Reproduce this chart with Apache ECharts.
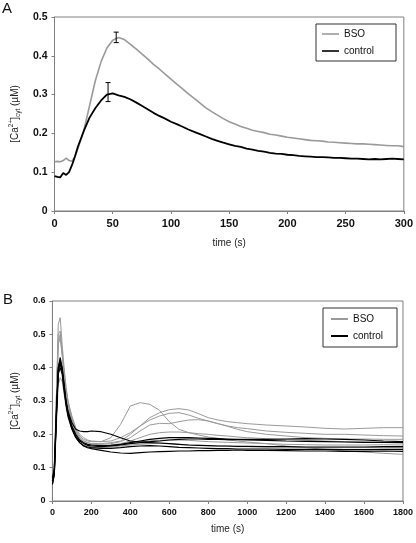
<!DOCTYPE html>
<html>
<head>
<meta charset="utf-8">
<script src="https://cdn.jsdelivr.net/npm/echarts@6/dist/echarts.min.js"></script>
<style>html,body{margin:0;padding:0;background:#fff}#c{width:416px;height:543px}</style>
</head>
<body>
<div id="c"></div>
<script>
// ---------- Panel A ----------
var tA = [0,2.5,5,7.5,10,12.5,15,17.5,20,25,30,35,40,45,50,55,60,65,70,75,80,85,90,95,100,105,110,115,120,125,130,135,140,145,150,155,160,165,170,175,180,185,190,195,200,205,210,215,220,225,230,235,240,245,250,255,260,265,270,275,280,285,290,295,300];
var bsoA = [0.127,0.128,0.127,0.130,0.136,0.130,0.128,0.140,0.160,0.205,0.270,0.335,0.385,0.420,0.440,0.447,0.442,0.430,0.418,0.405,0.392,0.378,0.366,0.353,0.340,0.327,0.315,0.302,0.290,0.278,0.266,0.256,0.247,0.238,0.230,0.224,0.218,0.213,0.208,0.205,0.202,0.198,0.196,0.193,0.190,0.188,0.186,0.184,0.182,0.181,0.180,0.178,0.177,0.176,0.175,0.174,0.173,0.173,0.172,0.171,0.170,0.169,0.168,0.168,0.166];
var ctrlA = [0.090,0.088,0.087,0.098,0.093,0.100,0.118,0.140,0.165,0.205,0.240,0.265,0.285,0.300,0.303,0.298,0.294,0.288,0.280,0.271,0.262,0.253,0.245,0.238,0.230,0.224,0.217,0.210,0.204,0.198,0.192,0.186,0.181,0.176,0.172,0.168,0.165,0.161,0.158,0.155,0.153,0.150,0.148,0.147,0.145,0.144,0.142,0.141,0.140,0.139,0.139,0.138,0.137,0.137,0.136,0.135,0.135,0.134,0.133,0.134,0.133,0.134,0.135,0.134,0.133];
// error bars: [time, low, high]
var errA = [[53,0.434,0.461],[46,0.282,0.331]];

// ---------- Panel B ----------
var tB = [0,10,20,30,40,50,60,70,80,100,120,140,160,180,200,250,300,350,400,450,500,550,600,650,700,750,800,850,900,950,1000,1100,1200,1300,1400,1500,1600,1700,1800];
var bso1 = [0.06,0.10,0.30,0.53,0.55,0.47,0.40,0.34,0.30,0.25,0.215,0.195,0.185,0.18,0.178,0.178,0.19,0.23,0.285,0.295,0.29,0.272,0.238,0.215,0.205,0.198,0.192,0.188,0.183,0.18,0.177,0.172,0.165,0.16,0.155,0.15,0.147,0.143,0.14];
var bso2 = [0.07,0.10,0.28,0.48,0.50,0.44,0.38,0.33,0.29,0.245,0.21,0.19,0.18,0.175,0.172,0.172,0.175,0.18,0.20,0.225,0.25,0.265,0.274,0.277,0.273,0.262,0.25,0.243,0.238,0.235,0.232,0.228,0.225,0.222,0.218,0.216,0.218,0.22,0.22];
var bso3 = [0.06,0.09,0.30,0.50,0.51,0.45,0.39,0.34,0.30,0.255,0.22,0.20,0.19,0.183,0.18,0.178,0.18,0.19,0.205,0.225,0.243,0.255,0.263,0.265,0.258,0.248,0.24,0.232,0.225,0.22,0.217,0.21,0.206,0.203,0.20,0.20,0.198,0.196,0.195];
var bso4 = [0.05,0.09,0.25,0.40,0.43,0.40,0.35,0.31,0.28,0.24,0.21,0.19,0.18,0.175,0.172,0.17,0.172,0.178,0.19,0.21,0.228,0.233,0.232,0.238,0.243,0.244,0.24,0.232,0.224,0.215,0.208,0.20,0.195,0.19,0.188,0.186,0.186,0.185,0.185];
var bso5 = [0.07,0.10,0.26,0.41,0.42,0.39,0.34,0.30,0.27,0.23,0.20,0.185,0.175,0.17,0.168,0.166,0.168,0.172,0.18,0.19,0.20,0.205,0.207,0.207,0.205,0.202,0.20,0.197,0.195,0.192,0.19,0.187,0.184,0.182,0.18,0.178,0.177,0.176,0.175];
var bso6 = [0.06,0.08,0.22,0.35,0.37,0.36,0.32,0.28,0.25,0.215,0.19,0.175,0.168,0.164,0.162,0.16,0.162,0.165,0.168,0.17,0.172,0.173,0.172,0.17,0.168,0.167,0.166,0.165,0.164,0.163,0.163,0.162,0.162,0.161,0.16,0.16,0.16,0.161,0.16];
var bso7 = [0.08,0.12,0.30,0.47,0.49,0.44,0.38,0.33,0.29,0.24,0.205,0.185,0.175,0.17,0.168,0.165,0.165,0.17,0.175,0.178,0.18,0.182,0.183,0.183,0.182,0.18,0.178,0.177,0.176,0.175,0.174,0.172,0.17,0.169,0.168,0.168,0.168,0.169,0.168];
var ctl1 = [0.05,0.08,0.25,0.40,0.43,0.40,0.35,0.30,0.27,0.235,0.215,0.21,0.208,0.208,0.21,0.208,0.20,0.19,0.18,0.177,0.178,0.18,0.183,0.185,0.186,0.186,0.185,0.185,0.184,0.184,0.183,0.182,0.18,0.179,0.178,0.177,0.176,0.176,0.175];
var ctl2 = [0.06,0.09,0.26,0.39,0.41,0.39,0.34,0.29,0.255,0.215,0.19,0.175,0.165,0.16,0.157,0.152,0.147,0.144,0.143,0.145,0.147,0.148,0.149,0.15,0.15,0.151,0.151,0.152,0.152,0.153,0.152,0.152,0.151,0.15,0.15,0.149,0.149,0.15,0.149];
var ctl3 = [0.07,0.10,0.27,0.40,0.42,0.40,0.35,0.30,0.265,0.225,0.20,0.183,0.175,0.17,0.168,0.166,0.167,0.17,0.175,0.18,0.185,0.188,0.19,0.19,0.19,0.189,0.188,0.187,0.186,0.185,0.185,0.185,0.186,0.187,0.186,0.185,0.183,0.18,0.178];
var ctl4 = [0.05,0.08,0.24,0.38,0.40,0.38,0.33,0.29,0.26,0.22,0.195,0.18,0.172,0.167,0.165,0.163,0.165,0.168,0.172,0.175,0.175,0.174,0.172,0.17,0.168,0.167,0.166,0.165,0.165,0.164,0.164,0.163,0.163,0.162,0.162,0.162,0.162,0.163,0.163];
var ctl5 = [0.06,0.09,0.25,0.39,0.415,0.39,0.34,0.295,0.26,0.22,0.192,0.175,0.166,0.162,0.16,0.158,0.158,0.16,0.163,0.165,0.166,0.165,0.163,0.161,0.16,0.159,0.158,0.157,0.157,0.156,0.156,0.156,0.155,0.155,0.155,0.154,0.154,0.155,0.155];
var bsoB = [bso1,bso2,bso3,bso4,bso5,bso6,bso7];
var ctlB = [ctl1,ctl2,ctl3,ctl4,ctl5];

var GRAY = '#9a9a9a', BLACK = '#000000', AXIS = '#808080';
function pairs(t, v){ return t.map(function(x,i){ return [x, v[i]]; }); }
var fontFam = '"Liberation Sans", Arial, sans-serif';
function yFmt(v){ return v === 0 ? '0' : v.toFixed(1); }
function xFmt(v){ return String(v); }
var nameRich = {
  base:{fontSize:10,fontFamily:fontFam,color:'#222',lineHeight:14,verticalAlign:'middle'},
  sup:{fontSize:6.5,fontFamily:fontFam,color:'#222',lineHeight:7,verticalAlign:'top'},
  sub:{fontSize:6.5,fontFamily:fontFam,color:'#222',lineHeight:7,verticalAlign:'bottom'}
};
var yName = '{base|[Ca}{sup|2+}{base|]}{sub|cyt}{base| (µM)}';

function xAxisCfg(grid, max, interval, fs){
  return {type:'value', gridIndex:grid, min:0, max:max, interval:interval,
    name:'time (s)', nameLocation:'middle', nameGap: grid===0?27:23,
    nameTextStyle:{fontSize:10, fontFamily:fontFam, color:'#222'},
    axisLine:{lineStyle:{color:AXIS,width:1}}, axisTick:{show:true,length:3,lineStyle:{color:AXIS}},
    axisLabel:{fontSize:fs, fontWeight:'bold', fontFamily:fontFam, color:'#111', margin:7, formatter:xFmt},
    splitLine:{show:false}};
}
function yAxisCfg(grid, max, fs, gap){
  return {type:'value', gridIndex:grid, min:0, max:max, interval:0.1,
    name:yName, nameLocation:'middle', nameGap:gap, nameRotate:90,
    nameTextStyle:{rich:nameRich},
    axisLine:{show:true,lineStyle:{color:AXIS,width:1}}, axisTick:{show:true,length:3,lineStyle:{color:AXIS}},
    axisLabel:{fontSize:fs, fontWeight:'bold', fontFamily:fontFam, color:'#111', margin:7, formatter:yFmt},
    splitLine:{show:false}};
}

var series = [
  {type:'line', name:'BSO', xAxisIndex:0, yAxisIndex:0, data:pairs(tA,bsoA), showSymbol:false, symbol:'none', lineStyle:{color:GRAY,width:1.6}, itemStyle:{color:GRAY}, z:2},
  {type:'line', name:'control', xAxisIndex:0, yAxisIndex:0, data:pairs(tA,ctrlA), showSymbol:false, symbol:'none', lineStyle:{color:BLACK,width:1.8}, itemStyle:{color:BLACK}, z:3},
  {type:'custom', xAxisIndex:0, yAxisIndex:0, data:errA, z:4,
    renderItem:function(params, api){
      var x = api.value(0);
      var lo = api.coord([x, api.value(1)]);
      var hi = api.coord([x, api.value(2)]);
      var w = 2.5;
      var st = {stroke:'#000', lineWidth:1};
      return {type:'group', children:[
        {type:'line', shape:{x1:lo[0],y1:lo[1],x2:hi[0],y2:hi[1]}, style:st},
        {type:'line', shape:{x1:lo[0]-w,y1:lo[1],x2:lo[0]+w,y2:lo[1]}, style:st},
        {type:'line', shape:{x1:hi[0]-w,y1:hi[1],x2:hi[0]+w,y2:hi[1]}, style:st}
      ]};
    }}
];
ctlB.forEach(function(v){
  series.push({type:'line', name:'control', xAxisIndex:1, yAxisIndex:1, data:pairs(tB,v), showSymbol:false, symbol:'none', lineStyle:{color:BLACK,width:1.1}, itemStyle:{color:BLACK}, z:3});
});
bsoB.forEach(function(v){
  series.push({type:'line', name:'BSO', xAxisIndex:1, yAxisIndex:1, data:pairs(tB,v), showSymbol:false, symbol:'none', lineStyle:{color:GRAY,width:1}, itemStyle:{color:GRAY}, z:2});
});

var legendBase = {orient:'vertical', icon:'rect', itemWidth:17, itemHeight:1.6, itemGap:7,
  borderColor:'#333', borderWidth:1, backgroundColor:'#fff',
  textStyle:{fontSize:10, fontFamily:fontFam, color:'#111'}, selectedMode:false};

var option = {
  animation:false,
  backgroundColor:'#fff',
  grid:[
    {left:46, top:17, right:11, bottom:332, show:true, borderColor:AXIS, borderWidth:1, backgroundColor:'transparent'},
    {left:48, top:301, right:11, bottom:42, show:true, borderColor:AXIS, borderWidth:1, backgroundColor:'transparent'}
  ],
  xAxis:[xAxisCfg(0,300,50,11), xAxisCfg(1,1800,200,9)],
  yAxis:[yAxisCfg(0,0.5,10.5,22), yAxisCfg(1,0.6,9,21)],
  legend:[
    Object.assign({}, legendBase, {left:316, top:24, padding:[5,22,5,6], data:[{name:'BSO', itemStyle:{color:GRAY}},{name:'control', itemStyle:{color:BLACK}}]}),
    Object.assign({}, legendBase, {left:323, top:308, padding:[6,14,6,8], itemHeight:2, data:[{name:'BSO', itemStyle:{color:GRAY}},{name:'control', itemStyle:{color:BLACK}}]})
  ],
  graphic:[
    {type:'text', left:2, top:1, style:{text:'A', fontSize:15, fontFamily:fontFam, fill:'#111'}},
    {type:'text', left:3, top:292, style:{text:'B', fontSize:15, fontFamily:fontFam, fill:'#111'}}
  ],
  series:series
};
var chart = echarts.init(document.getElementById('c'), null, {renderer:'canvas'});
chart.setOption(option);
</script>
</body>
</html>
